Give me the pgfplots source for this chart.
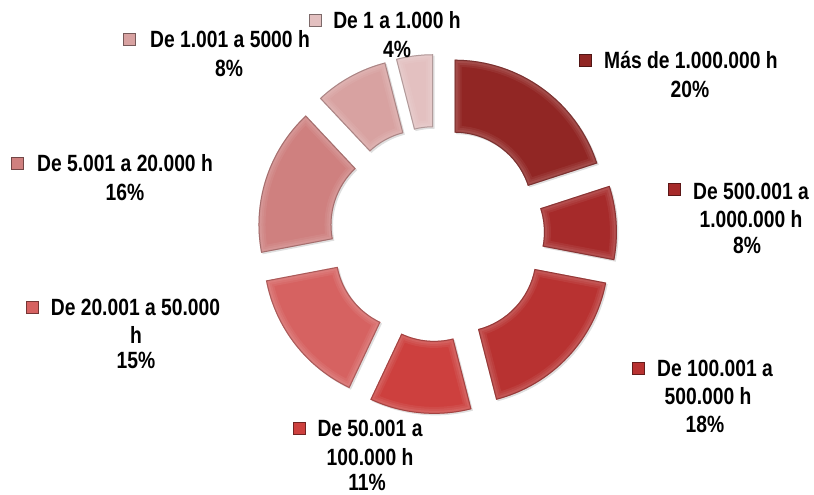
\documentclass[border=0pt]{standalone}
\usepackage{fontspec}
\setmainfont{Liberation Sans}[FakeStretch=0.82]
\usepackage{pgfplots}
\pgfplotsset{compat=1.18}
\usepackage{pgfplotstable}
\usetikzlibrary{shadows}

\definecolor{c0}{RGB}{145,38,36}
\definecolor{c1}{RGB}{166,42,42}
\definecolor{c2}{RGB}{184,50,49}
\definecolor{c3}{RGB}{205,64,62}
\definecolor{c4}{RGB}{214,98,97}
\definecolor{c5}{RGB}{207,128,127}
\definecolor{c6}{RGB}{216,162,161}
\definecolor{c7}{RGB}{227,192,192}

% share of hours, clockwise from 12 o'clock
\pgfplotstableread{
pct
20
8
18
11
15
16
8
4
}\donut

% wedge angles and exploded centres (axis units = pt)
\def\acc{0}
\pgfplotsforeachungrouped \i in {0,...,7}{%
  \pgfplotstablegetelem{\i}{pct}\of\donut
  \let\p\pgfplotsretval
  \pgfmathsetmacro\a{90-3.6*\acc}%
  \pgfmathsetmacro\b{90-3.6*(\acc+\p)}%
  \pgfmathsetmacro\m{(\a+\b)/2}%
  \pgfmathsetmacro\cx{437+30*cos(\m)}%
  \pgfmathsetmacro\cy{259+30*sin(\m)}%
  \expandafter\xdef\csname wa\i\endcsname{\a}%
  \expandafter\xdef\csname wb\i\endcsname{\b}%
  \expandafter\xdef\csname wx\i\endcsname{\cx}%
  \expandafter\xdef\csname wy\i\endcsname{\cy}%
  \pgfmathsetmacro\acc{\acc+\p}%
}

\newcommand\lab{\fontsize{23.5}{28}\selectfont\bfseries}

\begin{document}
\begin{tikzpicture}
\begin{axis}[x=1pt, y=1pt, xmin=0, xmax=814, ymin=0, ymax=493,
    hide axis, clip=false]
% keep the whole frame in the bounding box
\path (axis cs:0,0) rectangle (axis cs:814,493);

\pgfplotsinvokeforeach{0,...,7}{%
  \edef\wpath{(\csname wa#1\endcsname:150pt)
    arc[start angle=\csname wa#1\endcsname, end angle=\csname wb#1\endcsname, radius=150pt]
    -- (\csname wb#1\endcsname:77pt)
    arc[start angle=\csname wb#1\endcsname, end angle=\csname wa#1\endcsname, radius=77pt]
    -- cycle}%
  \edef\wshift{shift={(axis cs:\csname wx#1\endcsname,\csname wy#1\endcsname)}}%
  \edef\tmp{%
    \noexpand\fill[c#1, \wshift, drop shadow={shadow xshift=1.5pt, shadow yshift=-1.5pt, opacity=0.25}] \wpath;
    \noexpand\begin{scope}[\wshift]
      \noexpand\clip \wpath;
      \noexpand\draw[white, opacity=0.06, line width=14pt] \wpath;
      \noexpand\draw[white, opacity=0.06, line width=10pt] \wpath;
      \noexpand\draw[white, opacity=0.07, line width=6pt] \wpath;
      \noexpand\draw[c#1!50!black, opacity=0.45, line width=2pt] \wpath;
    \noexpand\end{scope}
  }\tmp
}

% legend squares
\foreach \k/\sx/\sy in {0/585/433, 1/674/304, 2/638/125, 3/299/65,
    4/32/186, 5/17/330, 6/129/454, 7/315/473}{%
  \edef\tmp{\noexpand\fill[c\k, draw=c\k!55!black, line width=0.8pt]
    (axis cs:\sx-6,\sy-6) rectangle (axis cs:\sx+6,\sy+6);}\tmp
}

% labels
\node[anchor=base, font=\lab] at (axis cs:397,464.5) {De 1 a 1.000 h};
\node[anchor=base, font=\lab] at (axis cs:397,435.5) {4\%};
\node[anchor=base, font=\lab] at (axis cs:230,445.5) {De 1.001 a 5000 h};
\node[anchor=base, font=\lab] at (axis cs:229,416.5) {8\%};
\node[anchor=base, font=\lab] at (axis cs:691,424.5) {Más de 1.000.000 h};
\node[anchor=base, font=\lab] at (axis cs:690,395.5) {20\%};
\node[anchor=base, font=\lab] at (axis cs:751,293.5) {De 500.001 a};
\node[anchor=base, font=\lab] at (axis cs:751,265.5) {1.000.000 h};
\node[anchor=base, font=\lab] at (axis cs:747,239.5) {8\%};
\node[anchor=base, font=\lab] at (axis cs:715,116.5) {De 100.001 a};
\node[anchor=base, font=\lab] at (axis cs:708,88.5) {500.000 h};
\node[anchor=base, font=\lab] at (axis cs:705,60.5) {18\%};
\node[anchor=base, font=\lab] at (axis cs:370,56.5) {De 50.001 a};
\node[anchor=base, font=\lab] at (axis cs:370,27.5) {100.000 h};
\node[anchor=base, font=\lab] at (axis cs:367,2.5) {11\%};
\node[anchor=base, font=\lab] at (axis cs:135.5,177.5) {De 20.001 a 50.000};
\node[anchor=base, font=\lab] at (axis cs:136,149.5) {h};
\node[anchor=base, font=\lab] at (axis cs:136,124.5) {15\%};
\node[anchor=base, font=\lab] at (axis cs:125,321.5) {De 5.001 a 20.000 h};
\node[anchor=base, font=\lab] at (axis cs:125,292.5) {16\%};
\end{axis}
\end{tikzpicture}
\end{document}
